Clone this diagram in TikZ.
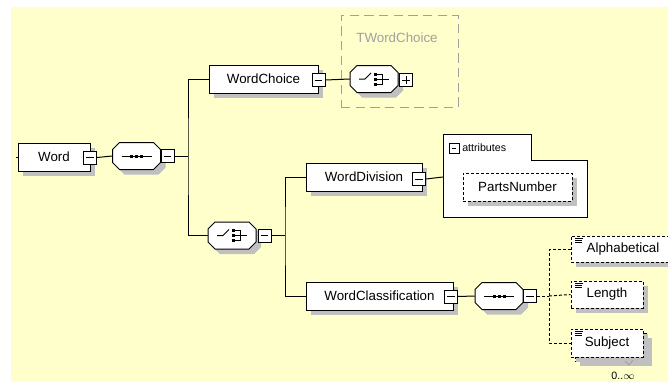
\documentclass[tikz,border=0pt]{standalone}
\usepackage{fontspec}
\setmainfont{Liberation Sans}
\usepackage{tikz}
\usetikzlibrary{shadows, positioning}
\definecolor{xsdbg}{RGB}{255,255,204}
\definecolor{xsdshadow}{RGB}{192,192,192}
\definecolor{xsdgray}{RGB}{160,160,160}
\tikzset{
  elem/.style={rectangle, draw, fill=white, line width=0.75pt,
    minimum height=21pt, inner sep=1pt, font=\fontsize{10}{12}\selectfont,
    drop shadow={shadow xshift=3.5pt, shadow yshift=-3.5pt, fill=xsdshadow, opacity=1}},
  optelem/.style={elem, dash pattern=on 2.25pt off 1.5pt},
  leafelem/.style={optelem, path picture={
    \draw[solid, line width=0.6pt]
      ([xshift=3pt,yshift=-1.5pt]path picture bounding box.north west) -- ++(6pt,0)
      ([xshift=3pt,yshift=-3pt]path picture bounding box.north west) -- ++(5pt,0)
      ([xshift=3pt,yshift=-4.5pt]path picture bounding box.north west) -- ++(5pt,0);}},
  comp/.style={rectangle, minimum width=36pt, minimum height=20.25pt, inner sep=0pt},
  minusbox/.style={rectangle, draw, fill=white, line width=0.75pt,
    minimum size=9.75pt, inner sep=0pt, path picture={
    \draw[line width=0.75pt] ([xshift=2pt]path picture bounding box.west)
      -- ([xshift=-2pt]path picture bounding box.east);}},
  plusbox/.style={rectangle, draw, fill=white, line width=0.75pt,
    minimum size=9.75pt, inner sep=0pt, path picture={
    \draw[line width=0.75pt] ([xshift=2pt]path picture bounding box.west)
      -- ([xshift=-2pt]path picture bounding box.east)
      ([yshift=2pt]path picture bounding box.south)
      -- ([yshift=-2pt]path picture bounding box.north);}},
  conn/.style={line width=0.75pt},
  optconn/.style={conn, dash pattern=on 2.25pt off 1.5pt}
}
\newcommand{\octpath}{(-24,-6.5) -- (-17,-13.5) -- (17,-13.5) -- (24,-6.5)
  -- (24,6.5) -- (17,13.5) -- (-17,13.5) -- (-24,6.5) -- cycle}
\newcommand{\compbox}[1]{%
  \begin{scope}[shift={(#1.center)}]
    \fill[xsdshadow] [shift={(5,5)}] \octpath;
    \draw[fill=white, line width=0.75pt] \octpath;
  \end{scope}}
\newcommand{\seqglyph}[1]{%
  \compbox{#1}
  \begin{scope}[shift={(#1.center)}]
    \draw[line width=0.75pt] (-15,0) -- (15,0);
    \foreach \dx in {-5,0,5} \fill (\dx-1.5,-1.5) rectangle (\dx+1.5,1.5);
  \end{scope}}
\newcommand{\choiceglyph}[1]{%
  \compbox{#1}
  \begin{scope}[shift={(#1.center)}, line width=0.75pt]
    \draw (-15,0) -- (-9,0) -- (-3,-6);
    \foreach \dy in {-5,0,5} \fill (-0.5,\dy-1.5) rectangle (2.5,\dy+1.5);
    \draw (3,-5) -- (8,-5) -- (8,5) -- (3,5) (3,0) -- (15,0);
  \end{scope}}

\begin{document}
\begin{tikzpicture}[x=0.75pt, y=-0.75pt]
  \useasboundingbox (0,0) rectangle (668,382);
  \fill[xsdbg] (11,7) rectangle (668,382);

  % root
  \coordinate (wordin) at (16,157);
  \node[elem, minimum width=54pt] (word) at (54,157) {Word};
  \node[minusbox] (wordtog) at (90,157.5) {};
  \node[comp] (wordseq) at (136.5,156) {};
  \seqglyph{wordseq}
  \node[minusbox] (wordseqtog) at (167.5,156) {};
  \coordinate (spinea) at (188,156);
  \draw[conn] (wordin) -- (word.west);
  \draw[conn] (wordtog.east) -- (wordseq.west);
  \draw[conn] (wordseqtog.east) -- (spinea);

  % WordChoice and its type
  \node[elem, minimum width=81.75pt] (wchoice) at (263.5,79) {WordChoice};
  \node[minusbox] (wchoicetog) at (318.5,80) {};
  \node[draw=xsdgray, dash pattern=on 7pt off 4pt, line width=0.75pt,
    minimum width=87.75pt, minimum height=69pt] (tchoicebox) at (399.5,61) {};
  \node[text=xsdgray, font=\fontsize{10}{12}\selectfont] (tchoicelabel) at (397,38) {TWordChoice};
  \node[comp] (tchoice) at (374,79) {};
  \choiceglyph{tchoice}
  \node[plusbox] (tchoicetog) at (406,80) {};
  \draw[conn] (wchoicetog.east) -- (tchoice.west);

  % choice below
  \node[comp] (divchoice) at (232,235.5) {};
  \choiceglyph{divchoice}
  \node[minusbox] (divchoicetog) at (264.5,235.5) {};
  \draw[conn] (wchoice.west) -| (spinea) |- (divchoice.west);
  \coordinate (spineb) at (285,235.5);
  \draw[conn] (divchoicetog.east) -- (spineb);

  % WordDivision with attributes
  \node[elem, minimum width=87pt] (wdiv) at (364,177) {WordDivision};
  \node[minusbox] (wdivtog) at (419,179) {};
  \draw[fill=white, line width=0.75pt] (443,134) -- (531,134) -- (531,160)
    -- (587,160) -- (587,217) -- (443,217) -- cycle;
  \coordinate (attrin) at (443,177);
  \node[minusbox, minimum size=7.5pt] (attrtog) at (454,148.5) {};
  \node[anchor=west, inner sep=0pt, font=\fontsize{8}{9.6}\selectfont] (attrlabel) at (462,148) {attributes};
  \node[optelem, minimum width=81.75pt] (parts) at (517.5,187) {PartsNumber};
  \draw[conn] (wdivtog.east) -- (attrin);

  % WordClassification
  \node[elem, minimum width=110.25pt] (wclass) at (379.5,296) {WordClassification};
  \node[minusbox] (wclasstog) at (451,296.5) {};
  \draw[conn] (wdiv.west) -| (spineb) |- (wclass.west);
  \node[comp] (classseq) at (499,296) {};
  \seqglyph{classseq}
  \node[minusbox] (classseqtog) at (530,296) {};
  \draw[conn] (wclasstog.east) -- (classseq.west);

  % leaves
  \node[leafelem, minimum width=78pt, minimum height=19.5pt] (alpha) at (623,249) {Alphabetical};
  \node[leafelem, minimum width=54pt, minimum height=20.25pt] (len) at (607,294.5) {Length};
  \node[optelem, minimum width=54pt] (subjback) at (611,347) {};
  \node[leafelem, minimum width=54pt, drop shadow={opacity=0}] (subj) at (607,343) {Subject};
  \draw[xsdgray, line width=0.6pt] (625,361) -- (629,365) -- (633,360);
  \node[font=\fontsize{8}{9.6}\selectfont, inner sep=0pt] (subjcount) at (623,376) {0..$\infty$};
  \coordinate (spinec) at (549,296);
  \draw[optconn] (classseqtog.east) -- (spinec);
  \draw[optconn] (alpha.west) -| (spinec) |- (subj.west);
  \draw[optconn] (spinec) -- (len.west);
\end{tikzpicture}
\end{document}
